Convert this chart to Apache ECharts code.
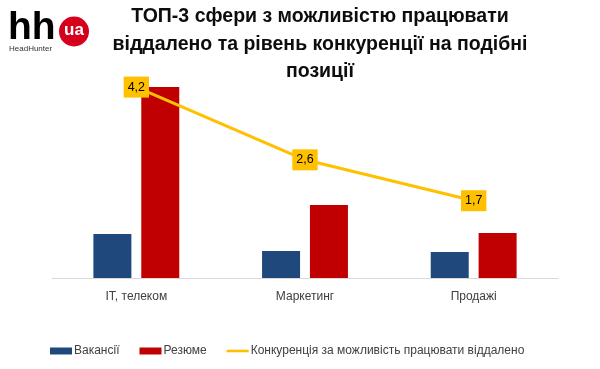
<!DOCTYPE html>
<html><head><meta charset="utf-8">
<script src="https://cdn.jsdelivr.net/npm/echarts@6/dist/echarts.min.js"></script>
<style>html,body{margin:0;padding:0;background:#fff}#c{width:600px;height:369px}</style>
</head><body><div id="c"></div>
<script>
const categories = ['IT, телеком', 'Маркетинг', 'Продажі'];
const vacancies = [4.4, 2.7, 2.6];
const resumes = [19.1, 7.3, 4.5];
const competition = [4.2, 2.6, 1.7];
const seriesNames = ['Вакансії', 'Резюме', 'Конкуренція за можливість працювати віддалено'];
const titleText = 'ТОП-3 сфери з можливістю працювати\nвіддалено та рівень конкуренції на подібні\nпозиції';

const chart = echarts.init(document.getElementById('c'), null, {renderer: 'canvas'});
const FONT = "'Liberation Sans', Arial, sans-serif";
chart.setOption({
  animation: false,
  backgroundColor: '#ffffff',
  title: {
    text: titleText,
    left: 320, top: 3, padding: 0,
    textAlign: 'center',
    textStyle: {fontFamily: FONT, fontWeight: 'bold', fontSize: 19.5, lineHeight: 27.5, color: '#0d0d0d'}
  },
  graphic: [
    {type: 'text', left: 8, top: 9, style: {text: 'hh', font: 'bold 39px ' + FONT, fill: '#000'}},
    {type: 'circle', shape: {cx: 74, cy: 31.5, r: 15}, style: {fill: '#d6001c'}},
    {type: 'text', x: 74, y: 30, style: {text: 'ua', font: 'bold 17px ' + FONT, fill: '#fff', align: 'center', verticalAlign: 'middle'}},
    {type: 'text', x: 9, y: 49, style: {text: 'HeadHunter', font: '8px ' + FONT, fill: '#333', align: 'left', verticalAlign: 'middle'}}
  ],
  legend: {
    left: 50, top: 345, padding: 0,
    itemWidth: 22, itemHeight: 7, itemGap: 20,
    textStyle: {fontFamily: FONT, fontSize: 12, color: '#404040', padding: [0, 0, 0, -3]},
    data: [
      {name: seriesNames[0], icon: 'rect'},
      {name: seriesNames[1], icon: 'rect'},
      {name: seriesNames[2], icon: 'path://M0,0h22v2.6h-22z'}
    ]
  },
  grid: {left: 52, right: 42, top: 78, bottom: 91},
  xAxis: {
    type: 'category', data: categories,
    axisLine: {lineStyle: {color: '#d9d9d9', width: 1}},
    axisTick: {show: false},
    axisLabel: {fontFamily: FONT, fontSize: 12, color: '#404040', margin: 13}
  },
  yAxis: [
    {type: 'value', min: 0, max: 20, show: false, splitLine: {show: false}},
    {type: 'value', min: 0, max: 4.4, show: false, splitLine: {show: false}}
  ],
  series: [
    {name: seriesNames[0], type: 'bar', data: vacancies, barWidth: 38, barGap: '26%', itemStyle: {color: '#1f497d'}},
    {name: seriesNames[1], type: 'bar', data: resumes, barWidth: 38, barGap: '26%', itemStyle: {color: '#c00000'}},
    {name: seriesNames[2], type: 'line', yAxisIndex: 1, data: competition,
     symbol: 'circle', symbolSize: 1, itemStyle: {color: '#ffc000'},
     lineStyle: {color: '#ffc000', width: 3},
     label: {show: true, position: 'inside', formatter: p => String(p.value).replace('.', ','),
       backgroundColor: '#ffc000', padding: [4, 4, 4, 4], color: '#000', fontFamily: FONT, fontSize: 12.5}
    }
  ]
});
</script></body></html>
